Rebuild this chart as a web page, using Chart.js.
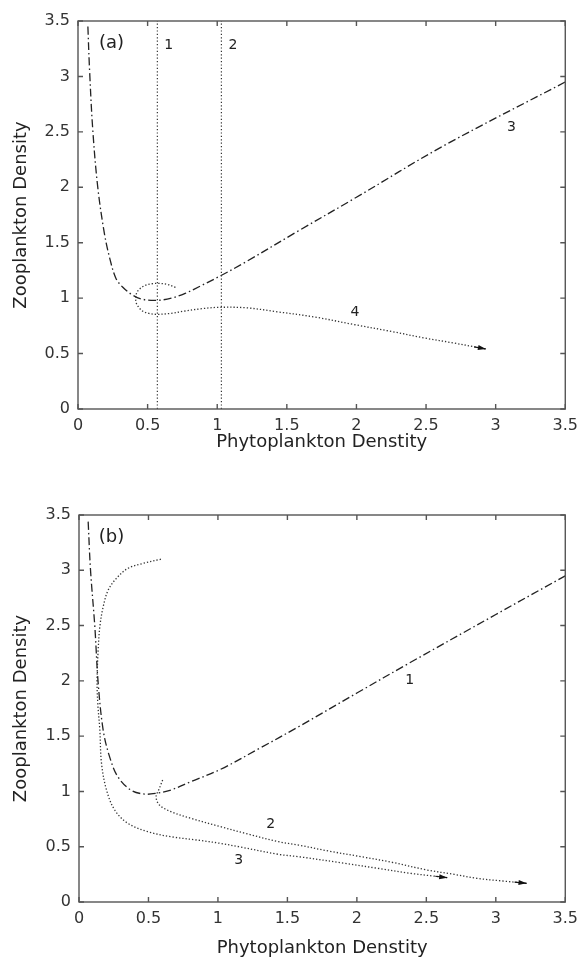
<!DOCTYPE html>
<html>
<head>
<meta charset="utf-8">
<script src="https://cdn.jsdelivr.net/npm/chart.js@4.4.1/dist/chart.umd.min.js"></script>
<style>
  html, body { margin: 0; padding: 0; background: #fff; }
  body { width: 585px; height: 960px; position: relative; overflow: hidden; }
  canvas { position: absolute; left: 0; }
  #panelA { top: 0; }
  #panelB { top: 460px; }
</style>
</head>
<body>
<canvas id="panelA" width="585" height="460"></canvas>
<canvas id="panelB" width="585" height="500"></canvas>
<script>
// Axis ticks (both panels share the same ranges)
const xTickValues = [0, 0.5, 1, 1.5, 2, 2.5, 3, 3.5];
const yTickValues = [0, 0.5, 1, 1.5, 2, 2.5, 3, 3.5];
const xTitle = 'Phytoplankton Denstity';
const yTitle = 'Zooplankton Density';

// Panel (a): zooplankton nullcline (curve 3)
const aCurve3X = [0.071, 0.083, 0.106, 0.142, 0.19, 0.23, 0.272, 0.32, 0.392, 0.463, 0.569, 0.67, 0.77, 0.88, 1.006, 1.207, 1.574, 2.0, 2.613, 3.5];
const aCurve3Y = [3.45, 3.06, 2.52, 2.0, 1.58, 1.35, 1.18, 1.10, 1.028, 0.99, 0.98, 1.0, 1.043, 1.11, 1.19, 1.328, 1.60, 1.91, 2.365, 2.95];
// Panel (a): trajectory (curve 4)
const aCurve4X = [0.70, 0.64, 0.58, 0.53, 0.487, 0.445, 0.42, 0.416, 0.435, 0.463, 0.51, 0.569, 0.66, 0.77, 0.89, 1.006, 1.207, 1.43, 1.70, 1.99, 2.25, 2.49, 2.70, 2.85, 2.93];
const aCurve4Y = [1.097, 1.125, 1.133, 1.13, 1.118, 1.085, 1.043, 0.968, 0.92, 0.884, 0.862, 0.854, 0.862, 0.884, 0.905, 0.917, 0.913, 0.877, 0.83, 0.76, 0.70, 0.64, 0.595, 0.56, 0.541];
// Panel (a): phytoplankton nullclines (vertical lines 1 and 2)
const aVerticalX = [0.57, 1.03];
// Panel (a): curve labels
const aLabelText = ['1', '2', '3', '4', '(a)'];
const aLabelX = [0.652, 1.113, 3.113, 1.99, 0.24];
const aLabelY = [3.28, 3.28, 2.545, 0.87, 3.30];

// Panel (b): zooplankton nullcline (curve 1)
const bCurve1X = [0.066, 0.083, 0.114, 0.138, 0.174, 0.221, 0.281, 0.376, 0.471, 0.555, 0.662, 0.805, 1.019, 1.3, 1.58, 2.0, 2.376, 3.0, 3.5];
const bCurve1Y = [3.44, 3.0, 2.49, 1.98, 1.555, 1.31, 1.13, 1.01, 0.976, 0.983, 1.013, 1.088, 1.2, 1.39, 1.585, 1.89, 2.16, 2.6, 2.95];
// Panel (b): trajectory 2
const bCurve2X = [0.602, 0.59, 0.579, 0.555, 0.579, 0.662, 0.805, 1.019, 1.2, 1.436, 1.58, 1.8, 2.03, 2.25, 2.507, 2.7, 2.864, 3.05, 3.221];
const bCurve2Y = [1.103, 1.065, 1.028, 0.952, 0.877, 0.817, 0.757, 0.681, 0.62, 0.545, 0.515, 0.46, 0.41, 0.36, 0.289, 0.25, 0.214, 0.19, 0.169];
// Panel (b): trajectory 3
const bCurve3X = [0.59, 0.46, 0.352, 0.269, 0.21, 0.174, 0.15, 0.138, 0.13, 0.135, 0.15, 0.162, 0.198, 0.257, 0.352, 0.495, 0.662, 0.852, 1.019, 1.15, 1.436, 1.579, 1.912, 2.15, 2.388, 2.55, 2.65];
const bCurve3Y = [3.10, 3.062, 3.017, 2.927, 2.82, 2.67, 2.49, 2.28, 2.0, 1.8, 1.555, 1.254, 1.013, 0.832, 0.711, 0.636, 0.59, 0.56, 0.53, 0.50, 0.431, 0.41, 0.35, 0.305, 0.259, 0.235, 0.22];
// Panel (b): curve labels
const bLabelText = ['1', '2', '3', '(b)'];
const bLabelX = [2.38, 1.38, 1.15, 0.234];
const bLabelY = [2.0, 0.70, 0.38, 3.30];

Chart.defaults.font.family = '"DejaVu Sans", "Liberation Sans", sans-serif';
Chart.defaults.color = '#333';

const zip = (xs, ys) => xs.map((x, i) => ({ x, y: ys[i] }));

const DASH_DOT = [8, 3, 1.5, 3];
const DOTTED = [1.3, 2];

function dashDot(xs, ys) {
  return { data: zip(xs, ys), showLine: true, borderColor: '#222', borderWidth: 1.3,
           borderDash: DASH_DOT, pointRadius: 0, tension: 0.35, fill: false };
}
function dotted(xs, ys, arrowHead) {
  return { data: zip(xs, ys), showLine: true, borderColor: '#333', borderWidth: 1.3,
           borderDash: DOTTED, pointRadius: 0, tension: 0.35, fill: false, arrowHead: !!arrowHead };
}
function vertical(x) {
  return { data: [{ x, y: 0 }, { x, y: 3.5 }], showLine: true, borderColor: '#333', borderWidth: 1.2,
           borderDash: [1.2, 2.2], pointRadius: 0, tension: 0, fill: false };
}

// Frame, inward ticks, arrow heads and curve labels
const panelDecor = {
  id: 'panelDecor',
  afterDatasetsDraw(chart, args, opts) {
    const { ctx, chartArea: a, scales: { x, y } } = chart;
    ctx.save();
    ctx.setLineDash([]);
    ctx.strokeStyle = '#555';
    ctx.lineWidth = 1.4;
    ctx.strokeRect(a.left, a.top, a.right - a.left, a.bottom - a.top);
    ctx.beginPath();
    xTickValues.forEach(v => {
      const px = x.getPixelForValue(v);
      ctx.moveTo(px, a.bottom); ctx.lineTo(px, a.bottom - 5);
      ctx.moveTo(px, a.top); ctx.lineTo(px, a.top + 5);
    });
    yTickValues.forEach(v => {
      const py = y.getPixelForValue(v);
      ctx.moveTo(a.left, py); ctx.lineTo(a.left + 5, py);
      ctx.moveTo(a.right, py); ctx.lineTo(a.right - 5, py);
    });
    ctx.stroke();

    ctx.strokeStyle = '#111';
    ctx.fillStyle = '#111';
    chart.data.datasets.forEach((ds, i) => {
      if (!ds.arrowHead) return;
      const pts = chart.getDatasetMeta(i).data;
      const p1 = pts[pts.length - 1], p0 = pts[pts.length - 2];
      const ang = Math.atan2(p1.y - p0.y, p1.x - p0.x);
      const c = Math.cos(ang), s = Math.sin(ang);
      ctx.lineWidth = 1.2;
      ctx.beginPath();
      ctx.moveTo(p1.x - 12 * c, p1.y - 12 * s);
      ctx.lineTo(p1.x, p1.y);
      ctx.stroke();
      ctx.beginPath();
      ctx.moveTo(p1.x, p1.y);
      ctx.lineTo(p1.x - 8 * c + 2.6 * s, p1.y - 8 * s - 2.6 * c);
      ctx.lineTo(p1.x - 8 * c - 2.6 * s, p1.y - 8 * s + 2.6 * c);
      ctx.closePath();
      ctx.fill();
    });

    ctx.fillStyle = '#222';
    ctx.textAlign = 'center';
    ctx.textBaseline = 'middle';
    opts.labels.forEach(l => {
      ctx.font = (l.text.length > 1 ? '18px' : '14px') + ' "DejaVu Sans", sans-serif';
      ctx.fillText(l.text, x.getPixelForValue(l.x), y.getPixelForValue(l.y));
    });
    ctx.restore();
  }
};

function buildPanel(canvasId, datasets, texts, lx, ly, box, canvasH, titleBottom) {
  const labels = texts.map((t, i) => ({ text: t, x: lx[i], y: ly[i] }));
  return new Chart(document.getElementById(canvasId), {
    type: 'scatter',
    data: { datasets },
    options: {
      responsive: false,
      animation: false,
      devicePixelRatio: 1,
      layout: { padding: { left: 0, top: box.top, right: 585 - box.right, bottom: 0 } },
      plugins: { legend: { display: false }, tooltip: { enabled: false }, panelDecor: { labels } },
      scales: {
        x: {
          type: 'linear', min: 0, max: 3.5,
          afterBuildTicks: s => { s.ticks = xTickValues.map(v => ({ value: v })); },
          afterFit: s => { s.height = canvasH - box.bottom; },
          grid: { display: false, drawTicks: false, tickLength: 0 }, border: { display: false },
          ticks: { font: { size: 16 }, color: '#333', padding: 7, maxRotation: 0, callback: v => String(v) },
          title: { display: true, text: xTitle, font: { size: 18 }, color: '#222', padding: { top: 4, bottom: titleBottom } }
        },
        y: {
          type: 'linear', min: 0, max: 3.5,
          afterBuildTicks: s => { s.ticks = yTickValues.map(v => ({ value: v })); },
          afterFit: s => { s.width = box.left; },
          grid: { display: false, drawTicks: false, tickLength: 0 }, border: { display: false },
          ticks: { font: { size: 16 }, color: '#333', padding: 8, callback: v => String(v) },
          title: { display: true, text: yTitle, font: { size: 18 }, color: '#222', padding: { top: 11, bottom: 0 } }
        }
      }
    },
    plugins: [panelDecor]
  });
}

buildPanel('panelA', [
  vertical(aVerticalX[0]),
  vertical(aVerticalX[1]),
  dashDot(aCurve3X, aCurve3Y),
  dotted(aCurve4X, aCurve4Y, true)
], aLabelText, aLabelX, aLabelY, { left: 78, top: 21, right: 572, bottom: 409 }, 460, 7);

buildPanel('panelB', [
  dashDot(bCurve1X, bCurve1Y),
  dotted(bCurve2X, bCurve2Y, true),
  dotted(bCurve3X, bCurve3Y, true)
], bLabelText, bLabelX, bLabelY, { left: 79, top: 55, right: 569, bottom: 442 }, 500, 1.2);
</script>
</body>
</html>
